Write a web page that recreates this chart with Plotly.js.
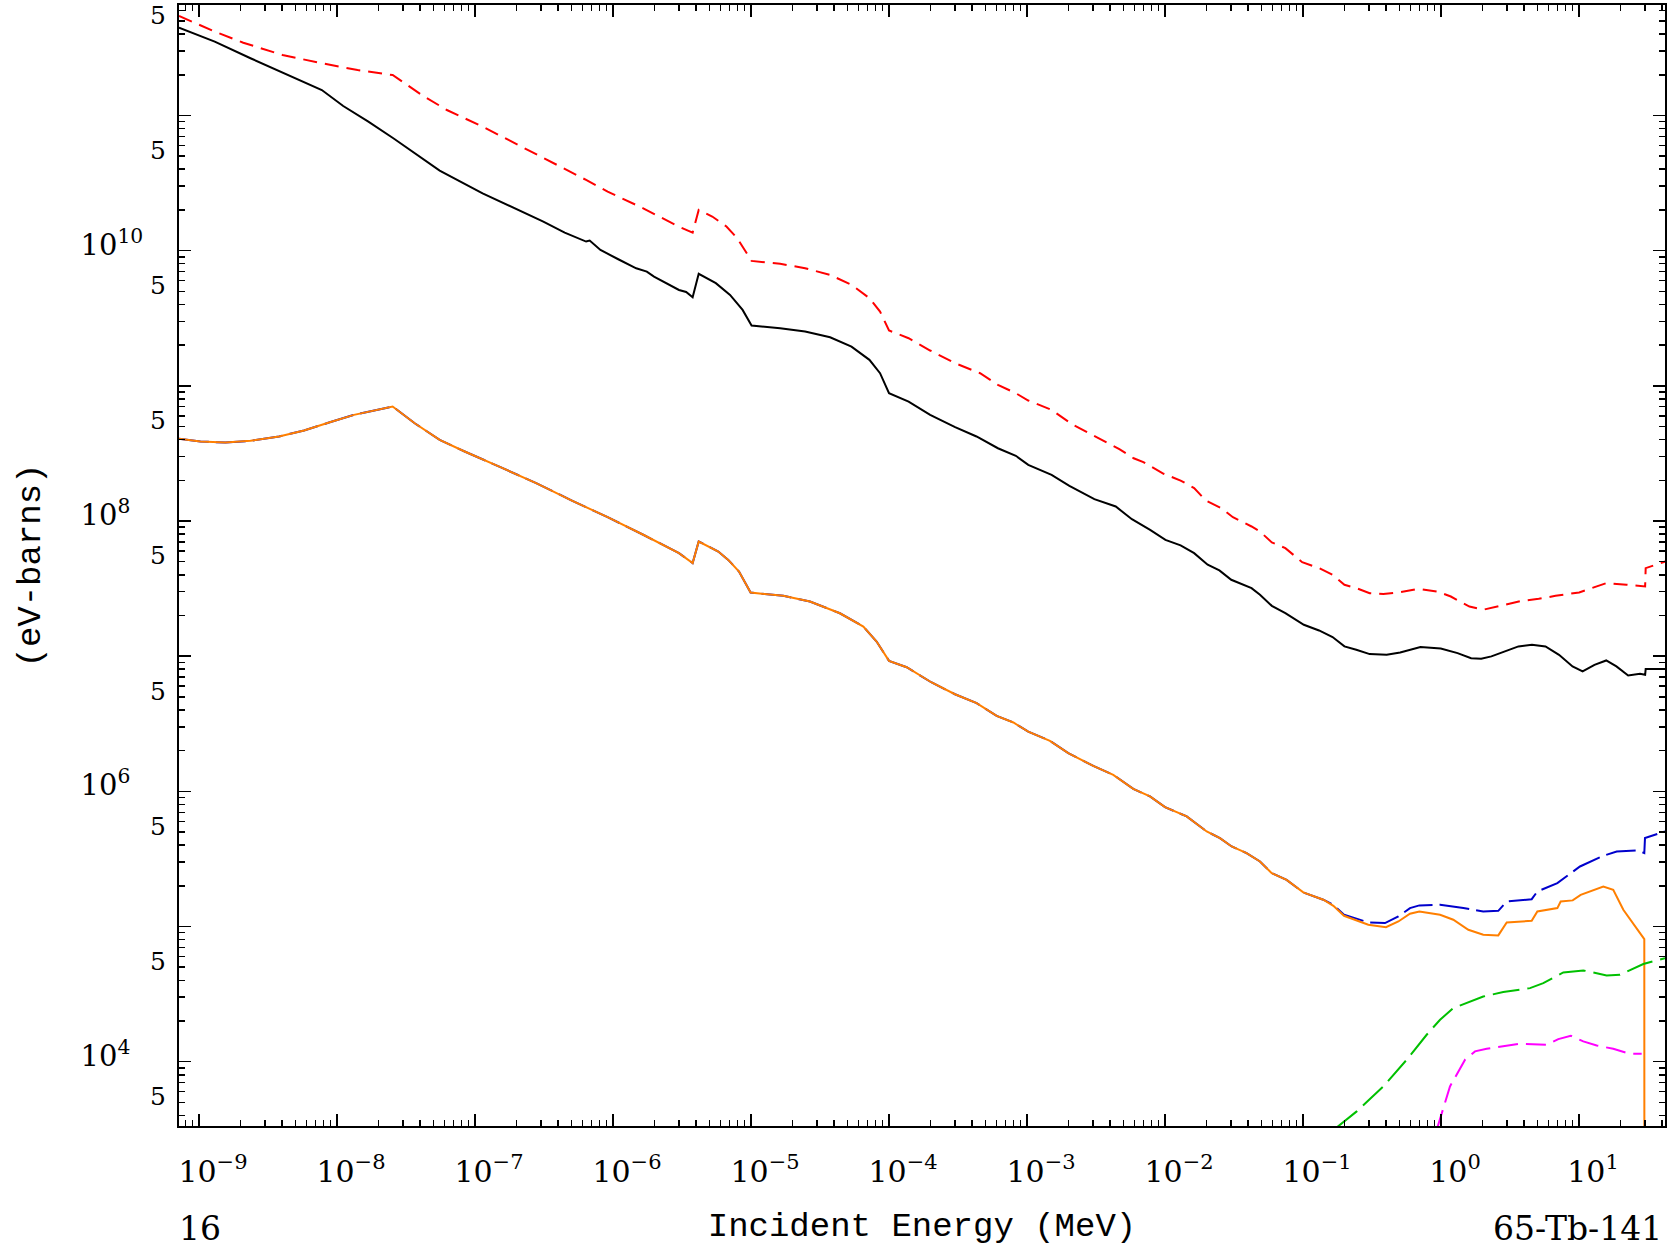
<!DOCTYPE html>
<html><head><meta charset="utf-8">
<script src="https://cdn.plot.ly/plotly-3.0.1.min.js"></script>
<style>html,body{margin:0;padding:0;background:#fff}#chart{width:1669px;height:1257px}</style>
</head><body><div id="chart"></div>
<script>
// Values, stored as log10(E / MeV) and log10(cross section, eV-barns)
const redLogE = [-9.145,-8.886,-8.679,-8.395,-8.110,-7.851,-7.597,-7.385,-7.204,-6.945,-6.686,-6.428,-6.195,-6.039,-5.781,-5.522,-5.423,-5.379,-5.281,-5.178,-5.100,-4.996,-4.789,-4.608,-4.427,-4.272,-4.142,-4.065,-4.000,-3.858,-3.702,-3.521,-3.340,-3.211,-3.081,-2.991,-2.822,-2.667,-2.499,-2.331,-2.227,-2.157,-2.010,-1.887,-1.789,-1.704,-1.593,-1.508,-1.373,-1.312,-1.226,-1.128,-1.006,-0.884,-0.786,-0.700,-0.614,-0.517,-0.418,-0.296,-0.161,-0.027,0.071,0.206,0.304,0.414,0.585,0.708,0.830,1.001,1.099,1.197,1.344,1.479,1.483,1.626];
const redLogY = [11.736,11.620,11.538,11.447,11.386,11.336,11.299,11.151,11.040,10.917,10.781,10.646,10.523,10.436,10.313,10.177,10.133,10.301,10.252,10.178,10.092,9.924,9.902,9.870,9.820,9.747,9.648,9.549,9.409,9.352,9.261,9.167,9.093,9.007,8.945,8.891,8.822,8.711,8.620,8.531,8.464,8.435,8.349,8.299,8.243,8.151,8.095,8.028,7.959,7.922,7.841,7.799,7.695,7.651,7.602,7.528,7.503,7.466,7.459,7.473,7.498,7.478,7.441,7.367,7.343,7.367,7.409,7.424,7.446,7.471,7.503,7.540,7.528,7.515,7.651,7.700];

const blackLogE = [-9.145,-8.886,-8.627,-8.369,-8.110,-7.955,-7.773,-7.592,-7.256,-6.945,-6.686,-6.505,-6.350,-6.195,-6.169,-6.091,-5.962,-5.832,-5.755,-5.703,-5.522,-5.470,-5.423,-5.379,-5.255,-5.152,-5.061,-4.996,-4.789,-4.608,-4.427,-4.272,-4.142,-4.065,-4.000,-3.858,-3.702,-3.521,-3.366,-3.211,-3.081,-2.991,-2.822,-2.693,-2.512,-2.357,-2.240,-2.108,-1.997,-1.887,-1.789,-1.691,-1.606,-1.520,-1.373,-1.312,-1.226,-1.128,-0.994,-0.884,-0.786,-0.700,-0.614,-0.517,-0.394,-0.296,-0.149,-0.002,0.120,0.218,0.291,0.365,0.463,0.561,0.659,0.757,0.855,0.953,1.026,1.112,1.197,1.271,1.356,1.442,1.479,1.483,1.626];
const blackLogY = [11.650,11.546,11.423,11.307,11.188,11.070,10.954,10.831,10.592,10.424,10.301,10.214,10.133,10.067,10.074,10.005,9.936,9.869,9.845,9.808,9.709,9.694,9.655,9.828,9.759,9.672,9.561,9.446,9.426,9.401,9.359,9.290,9.192,9.093,8.945,8.883,8.785,8.694,8.625,8.538,8.482,8.415,8.341,8.260,8.161,8.107,8.013,7.934,7.860,7.819,7.762,7.676,7.634,7.565,7.503,7.454,7.372,7.318,7.232,7.190,7.141,7.072,7.047,7.015,7.010,7.027,7.067,7.057,7.022,6.985,6.980,6.998,7.035,7.072,7.084,7.072,7.010,6.924,6.887,6.936,6.968,6.924,6.857,6.870,6.862,6.904,6.904];

const orangeLogE = [-9.145,-8.990,-8.809,-8.627,-8.420,-8.239,-8.058,-7.877,-7.597,-7.437,-7.256,-7.075,-6.816,-6.557,-6.298,-6.039,-5.781,-5.522,-5.423,-5.379,-5.237,-5.165,-5.087,-5.003,-4.766,-4.573,-4.356,-4.186,-4.090,-4.000,-3.872,-3.691,-3.522,-3.365,-3.220,-3.099,-2.991,-2.834,-2.701,-2.520,-2.375,-2.230,-2.109,-2.000,-1.843,-1.698,-1.602,-1.517,-1.409,-1.312,-1.227,-1.119,-0.998,-0.853,-0.780,-0.703,-0.527,-0.399,-0.309,-0.225,-0.157,-0.007,0.089,0.198,0.306,0.415,0.476,0.657,0.698,0.843,0.867,0.954,1.012,1.176,1.248,1.321,1.473,1.474];
const orangeLogY = [8.608,8.588,8.580,8.593,8.625,8.669,8.728,8.785,8.847,8.723,8.600,8.514,8.398,8.280,8.151,8.028,7.898,7.762,7.688,7.848,7.774,7.712,7.626,7.470,7.446,7.404,7.317,7.219,7.108,6.965,6.918,6.805,6.718,6.652,6.558,6.509,6.442,6.373,6.282,6.188,6.122,6.018,5.962,5.883,5.814,5.703,5.654,5.592,5.543,5.481,5.395,5.345,5.252,5.198,5.153,5.079,5.013,4.995,5.037,5.094,5.111,5.087,5.050,4.976,4.939,4.934,5.030,5.042,5.111,5.136,5.185,5.193,5.234,5.296,5.271,5.124,4.907,2.000];

// the blue curve coincides with the orange one up to about 0.14 MeV (first 54 points)
const blueSharedCount = 54;
const blueHighLogE = [-0.780,-0.703,-0.527,-0.406,-0.309,-0.225,-0.157,-0.007,0.162,0.306,0.415,0.476,0.657,0.698,0.843,1.007,1.176,1.273,1.418,1.473,1.478,1.623];
const blueHighLogY = [5.160,5.087,5.030,5.025,5.074,5.136,5.156,5.161,5.136,5.111,5.116,5.185,5.202,5.259,5.321,5.444,5.523,5.555,5.562,5.543,5.654,5.703];

const greenLogE = [-0.760,-0.611,-0.418,-0.249,-0.104,-0.007,0.089,0.210,0.306,0.451,0.645,0.741,0.886,1.031,1.200,1.297,1.466,1.623];
const greenLogY = [3.510,3.632,3.817,4.014,4.199,4.310,4.396,4.446,4.482,4.515,4.544,4.581,4.660,4.675,4.638,4.643,4.722,4.766];

const magentaLogE = [-0.030,0.065,0.174,0.246,0.331,0.451,0.572,0.765,0.850,0.940,1.031,1.128,1.248,1.369,1.454];
const magentaLogY = [3.500,3.817,4.014,4.076,4.095,4.113,4.132,4.125,4.167,4.192,4.150,4.120,4.095,4.058,4.058];

const xTickVals = [1e-9,1e-8,1e-7,1e-6,1e-5,1e-4,1e-3,1e-2,1e-1,1e0,1e1];
const xTickExp = ['−9','−8','−7','−6','−5','−4','−3','−2','−1','0','1'];
const yDecadeVals = [1e4,1e5,1e6,1e7,1e8,1e9,1e10,1e11];
const yDecadeExp = ['4','','6','','8','','10',''];
const yFiveVals = [5e3,5e4,5e5,5e6,5e7,5e8,5e9,5e10,5e11];
const yFiveText = ['5','5','5','5','5','5','5','5','5'];

const SERIF = 'DejaVu Serif, Liberation Serif, serif';
const MONO = 'Liberation Mono, DejaVu Sans Mono, monospace';

const xTickText = xTickExp.map(e => '10<sup>' + e + '</sup>');
// pad the one-digit exponents so every decade label has the width of 10^10 (labels are left aligned in the reference)
const yDecadeText = yDecadeExp.map(e => e === '' ? '' :
  '10<sup>' + e + (e.length === 1 ? '\u00A0\u00A0' : '') + '</sup>');

const toLinear = a => a.map(v => Math.pow(10, v));

// minor tick positions (2..9 in every decade)
function minorTicks(lo, hi) {
  const out = [];
  for (let n = lo; n <= hi; n++) for (let k = 2; k <= 9; k++) out.push(k * Math.pow(10, n));
  return out;
}

const blueLogE = orangeLogE.slice(0, blueSharedCount).concat(blueHighLogE);
const blueLogY = orangeLogY.slice(0, blueSharedCount).concat(blueHighLogY);

function line(xs, ys, color, dash, name, yax) {
  return {x: toLinear(xs), y: toLinear(ys), type: 'scatter', mode: 'lines', name: name, yaxis: yax || 'y',
          line: {color: color, width: 2, dash: dash}, hoverinfo: 'skip'};
}

const traces = [
  line(blueLogE, blueLogY, '#0000cc', '30px,7px', 'blue'),
  line(orangeLogE, orangeLogY, '#ff7f00', 'solid', 'orange'),
  line(greenLogE, greenLogY, '#00c000', '27px,8px', 'green'),
  line(magentaLogE, magentaLogY, '#ff00ff', '20px,8px', 'magenta'),
  line(blackLogE, blackLogY, '#000000', 'solid', 'black'),
  // drawn against the overlaid axis y2, which has exactly the same log range as y
  line(redLogE, redLogY, '#ff0000', '14px,8px', 'red', 'y2')
];

const Y_RANGE = [3.524, 11.817];

const axisCommon = {
  type: 'log', showgrid: false, zeroline: false, showline: true, linecolor: '#000', linewidth: 2,
  mirror: 'ticks', ticks: 'inside', ticklen: 12, tickwidth: 1.5, tickcolor: '#000'
};

const layout = {
  width: 1669, height: 1257, showlegend: false,
  paper_bgcolor: '#fff', plot_bgcolor: '#fff',
  font: {family: SERIF, size: 25, color: '#000'},
  margin: {l: 179, r: 4, t: 5, b: 131},
  xaxis: Object.assign({}, axisCommon, {
    range: [-9.145, 1.623], tickmode: 'array', tickvals: xTickVals, ticktext: xTickText,
    tickfont: {family: SERIF, size: 30, color: '#000'},
    ticklabelshift: 14, ticklabelstandoff: 18,
    minor: {tickmode: 'array', tickvals: minorTicks(-10, 1), ticks: 'inside', ticklen: 6, tickwidth: 1.5, tickcolor: '#000'},
    title: {text: '\u00A0\u00A0Incident Energy (MeV)', font: {family: MONO, size: 34, color: '#000'}, standoff: 24}
  }),
  yaxis: Object.assign({}, axisCommon, {
    range: Y_RANGE, tickmode: 'array', tickvals: yDecadeVals, ticktext: yDecadeText,
    tickfont: {family: SERIF, size: 29, color: '#000'},
    ticklabelstandoff: 28, ticklabelshift: -6,
    minor: {tickmode: 'array', tickvals: minorTicks(3, 11), ticks: 'inside', ticklen: 6, tickwidth: 1.5, tickcolor: '#000'},
    title: {text: '(eV-barns)', font: {family: MONO, size: 34, color: '#000'}, standoff: 30}
  }),
  yaxis2: {
    type: 'log', overlaying: 'y', anchor: 'x', side: 'left', range: Y_RANGE,
    showgrid: false, zeroline: false, showline: false, ticks: '',
    tickmode: 'array', tickvals: yFiveVals, ticktext: yFiveText,
    tickfont: {family: SERIF, size: 25, color: '#000'},
    ticklabelstandoff: 12, ticklabelshift: -6
  },
  annotations: [
    {text: '16', xref: 'paper', yref: 'paper', x: -0.0015, y: -0.091, xanchor: 'left', yanchor: 'middle', showarrow: false,
     font: {family: SERIF, size: 33, color: '#000'}},
    {text: '65-Tb-141', xref: 'paper', yref: 'paper', x: 0.999, y: -0.091, xanchor: 'right', yanchor: 'middle', showarrow: false,
     font: {family: SERIF, size: 33, color: '#000'}}
  ]
};

Plotly.newPlot('chart', traces, layout, {staticPlot: true, displayModeBar: false});
</script>
</body></html>
